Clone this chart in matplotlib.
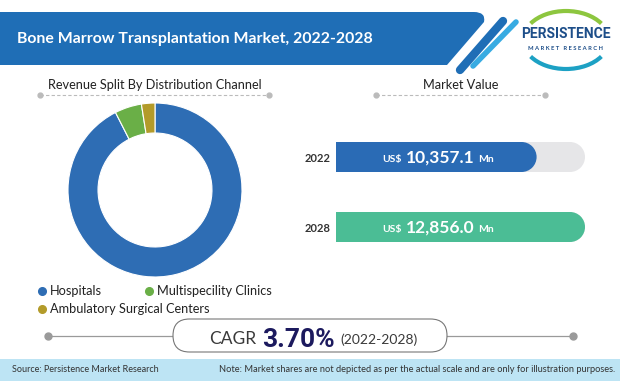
import matplotlib.pyplot as plt
from matplotlib.path import Path
from matplotlib.patches import PathPatch, FancyBboxPatch, Ellipse, Arc

plt.rcParams['font.family'] = ['Lato', 'DejaVu Sans']

# Data
title = 'Bone Marrow Transplantation Market, 2022-2028'
channels = ['Hospitals', 'Multispecility Clinics', 'Ambulatory Surgical Centers']
channel_share = [92.5, 5.0, 2.5]
channel_colors = ['#2E6DB4', '#6AAF47', '#B39B2A']

years = ['2022', '2028']
market_value = [10357.1, 12856.0]
bar_colors = ['#2A6BB5', '#4BBD95']

cagr = 3.70
cagr_period = '(2022-2028)'

W, H = 620, 381
fig = plt.figure(figsize=(W / 100, H / 100), dpi=100)
fig.patch.set_facecolor('white')

# background axes in pixel units
bg = fig.add_axes([0, 0, 1, 1])
bg.set_xlim(0, W)
bg.set_ylim(H, 0)
bg.axis('off')

# header bar
verts = [(0, 12), (474, 12), (486, 12), (484, 22), (447, 65), (0, 65), (0, 12)]
codes = [Path.MOVETO, Path.LINETO, Path.CURVE3, Path.CURVE3, Path.LINETO, Path.LINETO, Path.CLOSEPOLY]
bg.add_patch(PathPatch(Path(verts, codes), fc='#1F6EB6', ec='none'))
bg.plot([503, 460], [21, 70], color='#1F6EB6', lw=6, solid_capstyle='round')
bg.plot([516, 473], [22, 66], color='#38ABE2', lw=4, solid_capstyle='round')
bg.text(17, 39, title, color='white', fontsize=11.4, fontweight='bold', va='center')

# logo
bg.add_patch(Arc((566, 40), 86, 58, theta1=205, theta2=335, color='#8DC63F', lw=3))
bg.add_patch(Arc((566, 40), 86, 58, theta1=25, theta2=155, color='#1DA1C4', lw=3))
bg.text(566, 34, 'PERSISTENCE', color='#1D4E89', fontsize=10, fontweight='bold',
        family=['Liberation Sans Narrow', 'Roboto'], ha='center', va='center')
bg.text(566, 49, 'M A R K E T   R E S E A R C H', color='#1D4E89', fontsize=4.2,
        fontweight='bold', ha='center', va='center')

# subtitles with dashed rules
for cx, x0, x1, label in [(155, 40, 269, 'Revenue Split By Distribution Channel'),
                          (461, 376, 545, 'Market Value')]:
    bg.text(cx, 85, label, fontsize=9.2, color='#222222', ha='center', va='center')
    bg.plot([x0, x1], [95, 95], color='#BBBBBB', lw=0.8, dashes=(3, 2))
    bg.plot([x0, x1], [95, 95], 'o', color='#BBBBBB', ms=3.5)

# donut
ax = fig.add_axes([(155 - 87) / W, (H - 190 - 87) / H, 174 / W, 174 / H])
ax.pie(channel_share, colors=channel_colors, startangle=90, counterclock=False,
       wedgeprops=dict(width=0.345, edgecolor='white', linewidth=0.8))
ax.set_xlim(-1, 1)
ax.set_ylim(-1, 1)

# legend
legend_pos = [(42, 291), (149, 291), (42, 309)]
for (lx, ly), name, col in zip(legend_pos, channels, channel_colors):
    bg.plot(lx, ly, 'o', color=col, ms=5.5)
    bg.text(lx + 8, ly, name, fontsize=9.2, color='#222222', va='center')

# market value bars
bx = fig.add_axes([336 / W, (H - 265) / H, 249 / W, 145 / H])
vmax = max(market_value)
bx.set_xlim(0, vmax)
bx.set_ylim((265 - 157) / 70, (120 - 157) / 70)
bh = 30 / 70
cap = 15 * vmax / 249
ypos = list(range(len(years)))
bx.barh(ypos, vmax - cap, height=bh, color='#E6E6E8')
for y in ypos:
    bx.add_patch(Ellipse((vmax - cap, y), 2 * cap, bh, color='#E6E6E8', lw=0, clip_on=False))
bx.barh(ypos, [v - cap for v in market_value], height=bh, color=bar_colors)
for y, v, c in zip(ypos, market_value, bar_colors):
    bx.add_patch(Ellipse((v - cap, y), 2 * cap, bh, color=c, lw=0, clip_on=False))
    t = bx.text(0.418, y + 0.075, f'{v:,.1f}', transform=bx.get_yaxis_transform(),
                color='white', fontsize=12.5, fontweight='bold', ha='center', va='baseline')
    bx.annotate('US$', xy=(0, y + 0.075), xycoords=(t, 'data'), xytext=(-3, 0),
                textcoords='offset points', color='white', fontsize=7.5, fontweight='bold',
                ha='right', va='baseline')
    bx.annotate('Mn', xy=(1, y + 0.075), xycoords=(t, 'data'), xytext=(3, 0),
                textcoords='offset points', color='white', fontsize=7.5, fontweight='bold',
                ha='left', va='baseline')
bx.set_yticks(ypos, labels=years)
bx.tick_params(axis='y', length=0, pad=4, labelsize=8, labelcolor='#333333')
for lab in bx.get_yticklabels():
    lab.set_fontweight('bold')
bx.set_xticks([])
for s in bx.spines.values():
    s.set_visible(False)

# CAGR row
bg.plot([48, 573], [336, 336], color='#9A9A9A', lw=0.9, zorder=1)
bg.plot([48, 573], [336, 336], 'o', color='#9A9A9A', ms=5, zorder=1)
bg.add_patch(FancyBboxPatch((173, 319), 274, 33, boxstyle='round,pad=0,rounding_size=16.5',
                            fc='white', ec='#777777', lw=0.8, zorder=2))
bg.text(209, 344, 'CAGR', fontsize=12.5, color='#3A3A3A', va='baseline', zorder=3)
bg.text(262, 347, f'{cagr:.2f}%', fontsize=19, fontweight='bold', color='#1C1A5E',
        family=['Liberation Sans Narrow', 'Roboto'], va='baseline', zorder=3)
bg.text(340, 344, cagr_period, fontsize=10, color='#3A3A3A', va='baseline', zorder=3)

# footer
bg.add_patch(plt.Rectangle((0, 359), W, H - 359, fc='#BDE4F4', ec='none'))
bg.text(12, 370, 'Source: Persistence Market Research', fontsize=6.5, color='#333333', va='center')
bg.text(615, 370, 'Note: Market shares are not depicted as per the actual scale and are only for illustration purposes.',
        fontsize=6.7, color='#333333', va='center', ha='right')

fig.savefig('out.png', dpi=100)
